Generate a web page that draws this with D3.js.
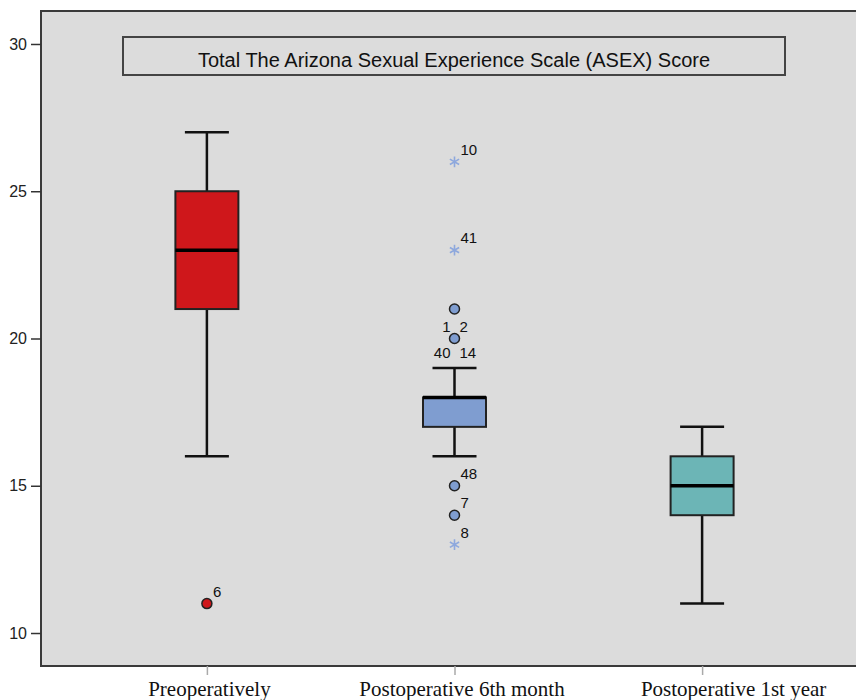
<!DOCTYPE html>
<html>
<head>
<meta charset="utf-8">
<script src="https://cdn.jsdelivr.net/npm/d3@7"></script>
<style>
  body { margin: 0; background: #fff; }
</style>
</head>
<body>
<div id="chart"></div>
<script>
const groups = ['Preoperatively', 'Postoperative 6th month', 'Postoperative 1st year'];
const boxColors = ['#cf171b', '#7f9dd0', '#6cb5b6'];
const whiskerLow = [16, 16, 11];
const q1 = [21, 17, 14];
const medians = [23, 18, 15];
const q3 = [25, 18, 16];
const whiskerHigh = [27, 19, 17];
const yTicks = [10, 15, 20, 25, 30];

// outliers: circle = mild, star = extreme
const outliers = [
  {group: 0, value: 11, shape: 'circle', label: '6'},
  {group: 1, value: 26, shape: 'star', label: '10'},
  {group: 1, value: 23, shape: 'star', label: '41'},
  {group: 1, value: 21, shape: 'circle', label: null},
  {group: 1, value: 20, shape: 'circle', label: null},
  {group: 1, value: 15, shape: 'circle', label: '48'},
  {group: 1, value: 14, shape: 'circle', label: '7'},
  {group: 1, value: 13, shape: 'star', label: '8'}
];
// case labels sharing a value, split either side of the marker
const pairLabels = [
  {group: 1, value: 20, texts: ['1', '2'], below: false},
  {group: 1, value: 20, texts: ['40', '14'], below: true}
];

const title = 'Total The Arizona Sexual Experience Scale (ASEX) Score';

const width = 856, height = 700;
const plot = {left: 41, top: 11, right: 868, bottom: 666};

const svg = d3.select('#chart').append('svg')
    .attr('width', width)
    .attr('height', height);

const x = d3.scalePoint()
    .domain(groups)
    .range([plot.left, plot.right])
    .padding(0.67);

const y = d3.scaleLinear()
    .domain([8.88, 31.12])
    .range([plot.bottom, plot.top]);

// plot background + frame
svg.append('rect')
    .attr('x', plot.left).attr('y', plot.top)
    .attr('width', plot.right - plot.left).attr('height', plot.bottom - plot.top)
    .attr('fill', '#dcdcdc')
    .attr('stroke', '#3a3a3a')
    .attr('stroke-width', 2);

// y axis
const yAxis = svg.append('g')
    .attr('transform', `translate(${plot.left},0)`)
    .call(d3.axisLeft(y).tickValues(yTicks).tickSize(10).tickPadding(4));
yAxis.select('.domain').remove();
yAxis.selectAll('.tick line').attr('stroke', '#333').attr('stroke-width', 1.5);
yAxis.selectAll('.tick text')
    .attr('fill', '#222')
    .style('font-family', 'Arial, "Liberation Sans", sans-serif')
    .style('font-size', '16px');

// x axis (category labels in the original drift right of their ticks)
const labelNudge = [2, 7, 31];
const xAxis = svg.append('g')
    .attr('transform', `translate(0,${plot.bottom})`)
    .call(d3.axisBottom(x).tickSize(9).tickPadding(6));
xAxis.select('.domain').remove();
xAxis.selectAll('.tick line').attr('stroke', '#aaa').attr('stroke-width', 1.5);
xAxis.selectAll('.tick text')
    .attr('fill', '#111')
    .attr('dx', (d, i) => labelNudge[i])
    .style('font-family', '"Liberation Serif", "Times New Roman", serif')
    .style('font-size', '21px');

// title box
svg.append('rect')
    .attr('x', 123).attr('y', 37)
    .attr('width', 662).attr('height', 38)
    .attr('fill', '#dcdcdc')
    .attr('stroke', '#444')
    .attr('stroke-width', 2);
svg.append('text')
    .attr('x', 454).attr('y', 67)
    .attr('text-anchor', 'middle')
    .attr('fill', '#111')
    .style('font-family', 'Arial, "Liberation Sans", sans-serif')
    .style('font-size', '20px')
    .text(title);

// boxes
const boxW = 63, capW = 44;
const boxes = svg.append('g').selectAll('g')
    .data(groups)
    .join('g')
    .attr('transform', d => `translate(${x(d)},0)`);

boxes.append('line')
    .attr('x1', 0).attr('x2', 0)
    .attr('y1', (d, i) => y(whiskerHigh[i]))
    .attr('y2', (d, i) => y(whiskerLow[i]))
    .attr('stroke', '#111').attr('stroke-width', 2.5);
boxes.append('line')
    .attr('x1', -capW / 2).attr('x2', capW / 2)
    .attr('y1', (d, i) => y(whiskerHigh[i])).attr('y2', (d, i) => y(whiskerHigh[i]))
    .attr('stroke', '#111').attr('stroke-width', 2.5);
boxes.append('line')
    .attr('x1', -capW / 2).attr('x2', capW / 2)
    .attr('y1', (d, i) => y(whiskerLow[i])).attr('y2', (d, i) => y(whiskerLow[i]))
    .attr('stroke', '#111').attr('stroke-width', 2.5);
boxes.append('rect')
    .attr('x', -boxW / 2).attr('width', boxW)
    .attr('y', (d, i) => y(q3[i]))
    .attr('height', (d, i) => y(q1[i]) - y(q3[i]))
    .attr('fill', (d, i) => boxColors[i])
    .attr('stroke', '#222').attr('stroke-width', 2);
boxes.append('line')
    .attr('x1', -boxW / 2).attr('x2', boxW / 2)
    .attr('y1', (d, i) => y(medians[i])).attr('y2', (d, i) => y(medians[i]))
    .attr('stroke', '#000').attr('stroke-width', 3.5);

// outliers
const labelFont = 'Arial, "Liberation Sans", sans-serif';
const outG = svg.append('g');
outliers.forEach(o => {
  const cx = x(groups[o.group]), cy = y(o.value);
  if (o.shape === 'circle') {
    outG.append('circle')
        .attr('cx', cx).attr('cy', cy).attr('r', 5)
        .attr('fill', boxColors[o.group])
        .attr('stroke', '#222').attr('stroke-width', 1.5);
  } else {
    outG.append('path')
        .attr('transform', `translate(${cx},${cy})`)
        .attr('d', d3.symbol(d3.symbolAsterisk, 80)())
        .attr('fill', 'none')
        .attr('stroke', '#8ea8dd').attr('stroke-width', 1.6);
  }
  if (o.label) {
    outG.append('text')
        .attr('x', cx + 6).attr('y', cy - 7)
        .attr('fill', '#111')
        .style('font-family', labelFont)
        .style('font-size', '15px')
        .text(o.label);
  }
});

pairLabels.forEach(p => {
  const cx = x(groups[p.group]);
  const by = p.below ? y(p.value) + 19 : y(p.value) - 7;
  outG.append('text')
      .attr('x', cx - 4).attr('y', by)
      .attr('text-anchor', 'end')
      .attr('fill', '#111')
      .style('font-family', labelFont).style('font-size', '15px')
      .text(p.texts[0]);
  outG.append('text')
      .attr('x', cx + 5).attr('y', by)
      .attr('fill', '#111')
      .style('font-family', labelFont).style('font-size', '15px')
      .text(p.texts[1]);
});
</script>
</body>
</html>
